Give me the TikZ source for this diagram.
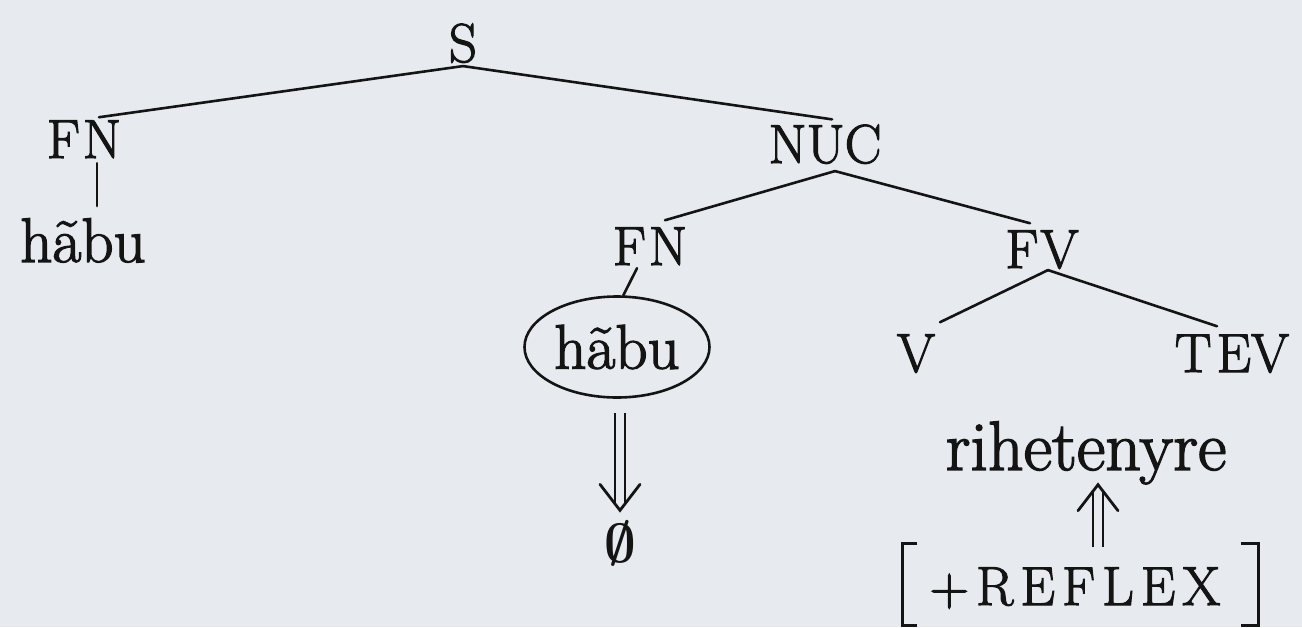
\RequirePackage{fix-cm}
\documentclass[tikz,border=0pt]{standalone}
\usepackage{bm}
\usepackage{fontspec}
\setmainfont{Latin Modern Roman}[FakeBold=2]
\usetikzlibrary{arrows.meta,shapes.geometric}
\definecolor{paper}{RGB}{231,235,239}
\definecolor{ink}{RGB}{20,20,20}
\begin{document}
\begin{tikzpicture}[x=1pt,y=-1pt,
  lab/.style={font=\fontsize{55}{60}\selectfont, inner sep=0pt, anchor=base, text=ink},
  word/.style={font=\fontsize{63}{68}\selectfont, inner sep=0pt, anchor=base, text=ink},
  edge/.style={line width=2.6pt, line cap=round, draw=ink},
  shaft/.style={draw=ink, line width=2.6pt, double=paper, double distance=7.5pt, shorten >=8pt},
  head/.style={draw=paper, line width=2.8pt, -{Straight Barb[length=26pt, width=40pt, color=ink, line cap=round]}}
]
\fill[paper] (0,0) rectangle (1302,627);
\useasboundingbox (0,0) rectangle (1302,627);
% nodes
\node[lab] (S) at (463,62) {S};
\node[lab] (FNl) at (84,158) {F\kern3pt N};
\node[word] (hl) at (83,262) {hãbu};
\node[lab] (NUC) at (825,163) {NUC};
\node[lab] (FNm) at (650,265) {F\kern3pt N};
\node[lab] (FV) at (1042,268) {F\kern2pt V};
\node[lab] (V) at (916,372) {V};
\node[lab] (TEV) at (1232,372) {T\kern5pt EV};
\node[word, draw=ink, line width=2.6pt, ellipse, anchor=center, minimum width=185pt, minimum height=101pt] (E) at (617,347) {hãbu};
\node[lab, anchor=center] (Z) at (620,543) {$\bm{\emptyset}$};
\node[word, font=\fontsize{70}{74}\selectfont] (rih) at (1086,470) {rihetenyre};
\node[lab] (R) at (1075,605) {+\kern7pt R\kern7pt E\kern7pt F\kern7pt L\kern7pt E\kern7pt X};
% connectors
\draw[edge] ([yshift=-3pt]S.south) -- ([xshift=15pt,yshift=3pt]FNl.north);
\draw[edge] ([yshift=-3pt]S.south) -- ([xshift=7pt,yshift=5pt]NUC.north);
\draw[edge] ([xshift=13pt,yshift=-5pt]FNl.south) -- ([xshift=14pt,yshift=12pt]hl.north);
\draw[edge] ([xshift=10pt,yshift=-7pt]NUC.south) -- ([xshift=15pt,yshift=7pt]FNm.north);
\draw[edge] ([xshift=10pt,yshift=-7pt]NUC.south) -- ([xshift=-12pt,yshift=7pt]FV.north);
\draw[edge] ([xshift=-13pt,yshift=-3pt]FNm.south) -- (E.83);
\draw[edge] ([xshift=6pt,yshift=-1pt]FV.south) -- ([xshift=24pt,yshift=12pt]V.north);
\draw[edge] ([xshift=6pt,yshift=-1pt]FV.south) -- ([xshift=-15pt,yshift=8pt]TEV.north);
% derivation arrows (double shaft + open head)
\draw[shaft] ([xshift=3pt,yshift=-14pt]E.south) -- ([yshift=8pt]Z.north);
\draw[head] ([xshift=3pt,yshift=-14pt]E.south) -- ([yshift=8pt]Z.north);
\draw[shaft] ([xshift=23pt,yshift=20pt]R.north) -- ([xshift=12pt,yshift=2pt]rih.south);
\draw[head] ([xshift=23pt,yshift=20pt]R.north) -- ([xshift=12pt,yshift=2pt]rih.south);
% brackets of the feature
\draw[edge, line cap=butt] ([xshift=-12pt,yshift=24pt]R.north west) -- ([xshift=-27pt,yshift=24pt]R.north west)
  -- ([xshift=-27pt,yshift=-17pt]R.south west) -- ([xshift=-12pt,yshift=-17pt]R.south west);
\draw[edge, line cap=butt] ([xshift=20pt,yshift=24pt]R.north east) -- ([xshift=38pt,yshift=24pt]R.north east)
  -- ([xshift=38pt,yshift=-17pt]R.south east) -- ([xshift=20pt,yshift=-17pt]R.south east);
\end{tikzpicture}
\end{document}
